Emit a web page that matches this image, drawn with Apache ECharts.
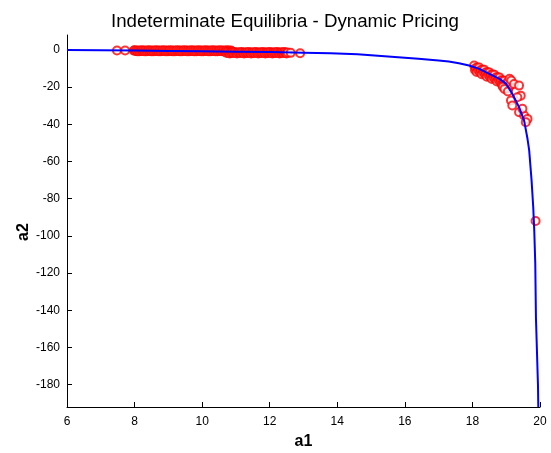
<!DOCTYPE html>
<html>
<head>
<meta charset="utf-8">
<script src="https://cdn.jsdelivr.net/npm/echarts@6/dist/echarts.min.js"></script>
<style>html,body{margin:0;padding:0;background:#fff}#c{width:551px;height:453px}</style>
</head>
<body>
<div id="c"></div>
<script>
// Blue curve (a1, a2)
const curveA1 = [6.0, 7.0, 8.0, 9.0, 10.0, 11.0, 12.0, 13.0, 13.8, 14.6, 15.2, 15.8, 16.4, 17.0, 17.3, 17.6, 17.9, 18.2, 18.5, 18.8, 19.0, 19.18, 19.38, 19.53, 19.63, 19.68, 19.75, 19.8, 19.83, 19.86, 19.88, 19.94, 19.95];
const curveA2 = [-0.1, -0.2, -0.35, -0.55, -0.75, -0.95, -1.2, -1.5, -1.8, -2.4, -3.2, -4.0, -4.8, -5.7, -6.3, -7.2, -8.4, -10.2, -12.9, -15.6, -18.3, -23.6, -30.8, -38, -47.8, -54, -70, -84.6, -97, -115, -144, -180, -192];

// Red circles: upper-left band, first part (a1, a2)
const upperA1 = [7.48, 7.72, 7.98,
  8.00, 8.03, 8.06, 8.09, 8.12, 8.15, 8.18, 8.21, 8.24, 8.27,
  8.30, 8.33, 8.36, 8.39, 8.42, 8.45, 8.48, 8.51, 8.54, 8.57,
  8.60, 8.63, 8.66, 8.69, 8.72, 8.75, 8.78, 8.81, 8.84, 8.87,
  8.90, 8.93, 8.96, 8.99, 9.02, 9.05, 9.08, 9.11, 9.14, 9.17,
  9.20, 9.23, 9.26, 9.29, 9.32, 9.35, 9.38, 9.41, 9.44, 9.47,
  9.50, 9.53, 9.56, 9.59, 9.62, 9.65, 9.68, 9.71, 9.74, 9.77,
  9.80, 9.83, 9.86, 9.89, 9.92, 9.95, 9.98, 10.01, 10.04, 10.07,
  10.10, 10.13, 10.16, 10.19, 10.22, 10.25, 10.28, 10.31, 10.34, 10.37,
  10.40, 10.43, 10.46, 10.49, 10.52, 10.55, 10.58, 10.61, 10.64, 10.67,
  10.70, 10.73, 10.76, 10.79, 10.82, 10.85, 10.88];
const upperA2 = [-0.3, -0.3, -0.4,
  -0.2, -0.6, -0.4, -0.8, -0.3, -0.7, -0.5, -0.2, -0.6, -0.4,
  -0.8, -0.3, -0.7, -0.5, -0.2, -0.6, -0.4, -0.8, -0.3, -0.7,
  -0.5, -0.2, -0.6, -0.4, -0.8, -0.3, -0.7, -0.5, -0.2, -0.6,
  -0.4, -0.8, -0.3, -0.7, -0.5, -0.2, -0.6, -0.4, -0.8, -0.3,
  -0.7, -0.5, -0.2, -0.6, -0.4, -0.8, -0.3, -0.7, -0.5, -0.2,
  -0.6, -0.4, -0.8, -0.3, -0.7, -0.5, -0.2, -0.6, -0.4, -0.8,
  -0.3, -0.7, -0.5, -0.2, -0.6, -0.4, -0.8, -0.3, -0.7, -0.5,
  -0.2, -0.6, -0.4, -0.8, -0.3, -0.7, -0.5, -0.2, -0.6, -0.4,
  -0.8, -0.3, -0.7, -0.5, -0.2, -0.6, -0.4, -0.8, -0.3, -0.7,
  -0.5, -0.2, -0.6, -0.4, -0.8, -0.3, -0.7];

// Red circles: upper band, second part (a1, a2)
const lowerA1 = [10.70, 10.73, 10.76, 10.79, 10.82, 10.85, 10.88, 10.91, 10.94, 10.97,
  11.00, 11.03, 11.06, 11.09, 11.12, 11.15, 11.18, 11.21, 11.24, 11.27,
  11.30, 11.33, 11.36, 11.39, 11.42, 11.45, 11.48, 11.51, 11.54, 11.57,
  11.60, 11.63, 11.66, 11.69, 11.72, 11.75, 11.78, 11.81, 11.84, 11.87,
  11.90, 11.93, 11.96, 11.99, 12.02, 12.05, 12.08, 12.11, 12.14, 12.17,
  12.20, 12.23, 12.26, 12.29, 12.32, 12.35, 12.38, 12.41, 12.44, 12.47,
  12.50, 12.53, 12.62, 12.9];
const lowerA2 = [-1.3, -1.7, -1.1, -1.5, -1.9, -1.4, -1.6, -1.3, -1.7, -1.1,
  -1.5, -1.9, -1.4, -1.6, -1.3, -1.7, -1.1, -1.5, -1.9, -1.4,
  -1.6, -1.3, -1.7, -1.1, -1.5, -1.9, -1.4, -1.6, -1.3, -1.7,
  -1.1, -1.5, -1.9, -1.4, -1.6, -1.3, -1.7, -1.1, -1.5, -1.9,
  -1.4, -1.6, -1.3, -1.7, -1.1, -1.5, -1.9, -1.4, -1.6, -1.3,
  -1.7, -1.1, -1.5, -1.9, -1.4, -1.6, -1.3, -1.7, -1.1, -1.5,
  -1.9, -1.4, -1.6, -1.8];

// Red circles: bend cluster (a1, a2)
const bendA1 = [18.05, 18.075, 18.10, 18.125, 18.15, 18.175, 18.20, 18.225, 18.25, 18.275,
  18.30, 18.325, 18.35, 18.375, 18.40, 18.425, 18.45, 18.475, 18.50, 18.525,
  18.55, 18.575, 18.60, 18.625, 18.65, 18.675, 18.70, 18.725, 18.75, 18.775,
  18.80, 18.825, 18.85, 18.875, 18.90, 18.925, 18.95, 18.975, 19.00, 19.025,
  19.05, 19.075, 19.10, 19.05, 19.10, 19.15, 18.90, 18.95];
const bendA2 = [-8.4, -10.8, -9.7, -11.9, -9.5, -11.0, -9.5, -11.9, -10.8, -13.1,
  -10.7, -12.2, -10.7, -13.1, -12.0, -14.4, -12.0, -13.5, -12.1, -14.5,
  -13.4, -15.7, -13.3, -14.8, -13.4, -15.8, -14.7, -17.0, -14.7, -16.2,
  -14.8, -17.3, -16.3, -18.7, -16.4, -18.0, -16.6, -19.2, -18.3, -20.8,
  -18.7, -20.5, -19.3, -17.2, -15.5, -16.5, -19.8, -21.0];

// Red circles: scattered outliers (a1, a2)
const outA1 = [19.05, 19.23, 19.38, 19.43, 19.33, 19.14, 19.18, 19.38, 19.53, 19.63, 19.58, 19.48, 19.87];
const outA2 = [-22.4, -18.3, -19.2, -24.6, -25.5, -27.2, -29.9, -33.5, -35.3, -37.1, -38.9, -31.7, -92];

// Axis ticks
const xTicks = [6, 8, 10, 12, 14, 16, 18, 20];
const yTicks = [0, -20, -40, -60, -80, -100, -120, -140, -160, -180];

const pair = (a, b) => a.map((v, i) => [v, b[i]]);
const curve = pair(curveA1, curveA2);
const pts = [].concat(pair(upperA1, upperA2), pair(lowerA1, lowerA2), pair(bendA1, bendA2), pair(outA1, outA2));

const chart = echarts.init(document.getElementById('c'), null, {renderer: 'canvas'});
const font = 'Liberation Sans, Arial, sans-serif';
chart.setOption({
  animation: false,
  backgroundColor: '#fff',
  title: {
    text: 'Indeterminate Equilibria - Dynamic Pricing',
    left: 106, top: 7,
    textStyle: {fontFamily: font, fontSize: 18.7, fontWeight: 'normal', color: '#000'}
  },
  grid: {left: 67, right: 11, top: 35, bottom: 46, containLabel: false, outerBoundsMode: 'none'},
  xAxis: {
    type: 'value', min: 6, max: 20, interval: 2,
    name: 'a1', nameLocation: 'middle', nameGap: 27, nameMoveOverlap: false,
    nameTextStyle: {fontFamily: font, fontSize: 16, fontWeight: 'bold', color: '#000'},
    axisLine: {show: true, onZero: false, lineStyle: {color: '#000', width: 1}},
    axisTick: {show: true, inside: true, length: 5, lineStyle: {color: '#000'}, customValues: xTicks},
    axisLabel: {fontFamily: font, fontSize: 12, color: '#000', margin: 9, customValues: xTicks,
      formatter: v => String(v)},
    splitLine: {show: false}
  },
  yAxis: {
    type: 'value', min: -192, max: 8,
    name: 'a2', nameLocation: 'middle', nameGap: 35, nameMoveOverlap: false,
    nameTextStyle: {fontFamily: font, fontSize: 16, fontWeight: 'bold', color: '#000', padding: [0, 0, 0, -22]},
    axisLine: {show: true, onZero: false, lineStyle: {color: '#000', width: 1}},
    axisTick: {show: true, inside: true, length: 5, lineStyle: {color: '#000'}, customValues: yTicks},
    axisLabel: {fontFamily: font, fontSize: 12, color: '#000', margin: 7, customValues: yTicks},
    splitLine: {show: false}
  },
  series: [
    {
      type: 'scatter', data: pts, symbol: 'emptyCircle', symbolSize: 8,
      itemStyle: {color: '#ff0000', borderColor: '#ff0000', borderWidth: 1}, z: 2, silent: true
    },
    {
      type: 'line', data: curve, showSymbol: false, symbol: 'none',
      lineStyle: {color: '#0000ff', width: 2}, z: 3, silent: true
    }
  ]
});
</script>
</body>
</html>
